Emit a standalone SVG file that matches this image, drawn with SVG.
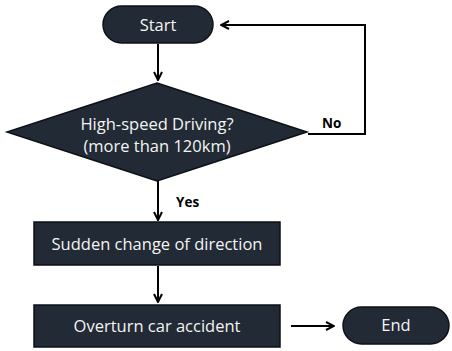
<svg xmlns="http://www.w3.org/2000/svg" width="452" height="351" viewBox="0 0 452 351">
  <style>
    .shape { fill: #222a35; stroke: #0d1117; stroke-width: 1.5; }
    .label { fill: #f4f4f4; font-family: "Open Sans", "Noto Sans", sans-serif; font-size: 16.5px; text-anchor: middle; }
    .tag { fill: #000000; font-family: "Open Sans", "Noto Sans", sans-serif; font-size: 13.5px; font-weight: bold; }
    .line { fill: none; stroke: #000000; stroke-width: 2; }
  </style>
  <defs>
    <marker id="arrow" viewBox="0 0 10 10" refX="9" refY="5" markerWidth="10" markerHeight="10" markerUnits="userSpaceOnUse" orient="auto">
      <path d="M1,1 L9,5 L1,9" fill="none" stroke="#000" stroke-width="2"/>
    </marker>
  </defs>
  <rect width="452" height="351" fill="#ffffff"/>

  <g id="connectors">
    <line class="line" x1="158" y1="44" x2="158" y2="80" marker-end="url(#arrow)"/>
    <polyline class="line" points="308,134 365,134 365,25 221,25" marker-end="url(#arrow)"/>
    <line class="line" x1="158" y1="181" x2="158" y2="220" marker-end="url(#arrow)"/>
    <line class="line" x1="158" y1="266" x2="158" y2="302" marker-end="url(#arrow)"/>
    <line class="line" x1="291" y1="326" x2="334" y2="326" marker-end="url(#arrow)"/>
    <text class="tag" x="322" y="128">No</text>
    <text class="tag" x="176" y="207">Yes</text>
  </g>

  <g id="start">
    <rect class="shape" x="103" y="6" width="110" height="37" rx="18.5"/>
    <text class="label" x="158" y="31" font-size="17">Start</text>
  </g>

  <g id="decision">
    <polygon class="shape" points="157,83 307,132 157,181 7,132"/>
    <text class="label" x="157" y="130" font-size="16">High-speed Driving?</text>
    <text class="label" x="157" y="152" font-size="16">(more than 120km)</text>
  </g>

  <g id="sudden-change">
    <rect class="shape" x="34" y="222" width="246" height="43"/>
    <text class="label" x="157" y="250">Sudden change of direction</text>
  </g>

  <g id="overturn">
    <rect class="shape" x="34" y="305" width="246" height="42"/>
    <text class="label" x="157" y="332">Overturn car accident</text>
  </g>

  <g id="end">
    <rect class="shape" x="343" y="307" width="106" height="37" rx="18.5"/>
    <text class="label" x="396" y="331" font-size="17">End</text>
  </g>
</svg>
